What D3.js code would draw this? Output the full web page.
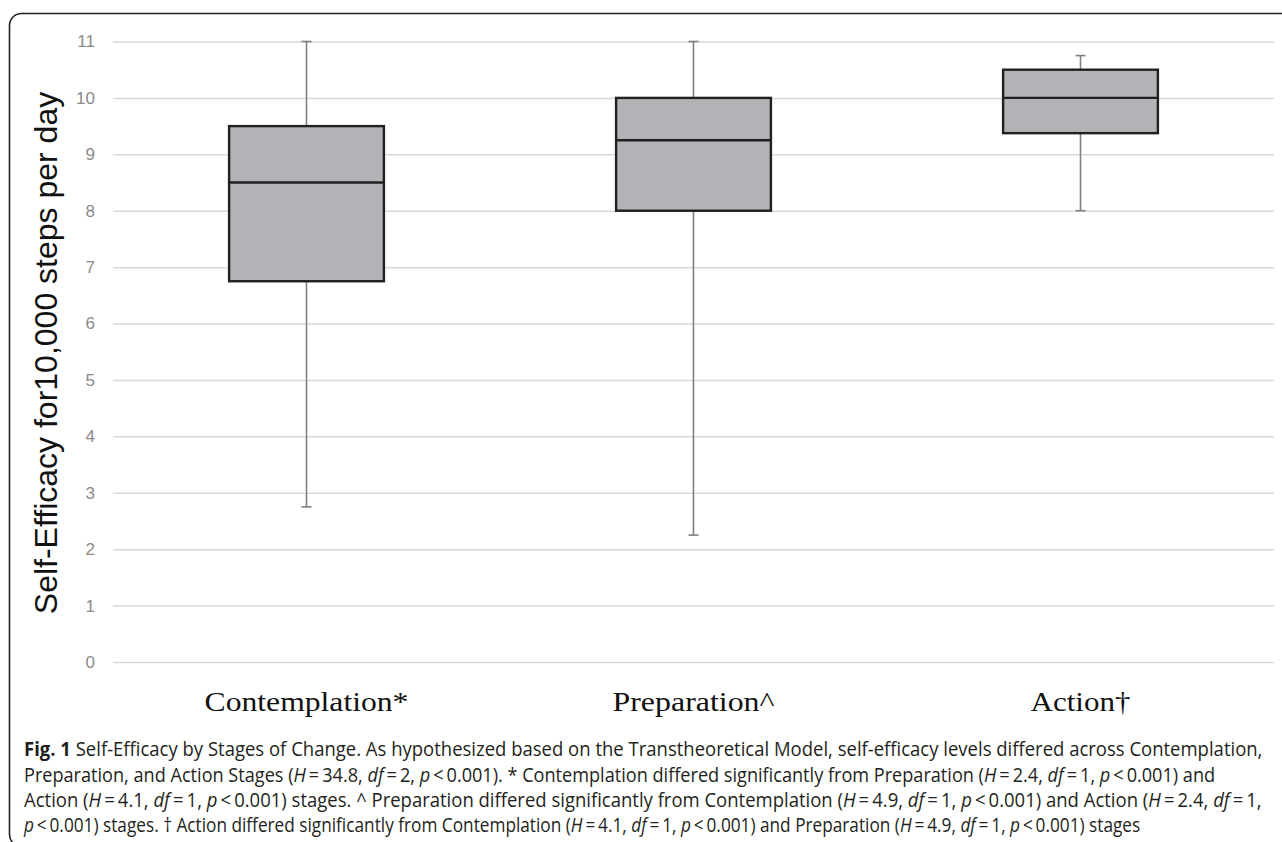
<!DOCTYPE html>
<html>
<head>
<meta charset="utf-8">
<script src="https://cdn.jsdelivr.net/npm/d3@7"></script>
<style>
  html, body { margin: 0; padding: 0; background: #fff; }
  svg { display: block; }
</style>
</head>
<body>
<svg id="chart" width="1282" height="842"></svg>
<script>
// ---- data ----
const categories = ["Contemplation*", "Preparation^", "Action\u2020"];
const whiskerMin = [2.75, 2.25, 8];
const quartile1 = [6.75, 8, 9.375];
const medians = [8.5, 9.25, 10];
const quartile3 = [9.5, 10, 10.5];
const whiskerMax = [11, 11, 10.75];
const yTicks = [0, 1, 2, 3, 4, 5, 6, 7, 8, 9, 10, 11];
const yTitle = "Self-Efficacy for10,000 steps per day";
const labelWidths = [204, 162, 100];

const svg = d3.select("#chart");

// frame
svg.append("rect")
  .attr("x", 9.5).attr("y", 13.5)
  .attr("width", 1300).attr("height", 833)
  .attr("rx", 12).attr("ry", 12)
  .attr("fill", "none").attr("stroke", "#231f20").attr("stroke-width", 1.6);

const y = d3.scaleLinear().domain([0, 11]).range([662, 41.5]);
const x = d3.scaleBand().domain(categories).range([113, 1274]);
const boxW = x.bandwidth() * 0.4;

// gridlines + tick labels
const yAxis = d3.axisLeft(y).tickValues(yTicks).tickSize(-(1274 - 113)).tickPadding(18).tickFormat(d3.format("d"));
const gAxis = svg.append("g").attr("transform", "translate(113,0)").call(yAxis);
gAxis.select(".domain").remove();
gAxis.selectAll(".tick line").attr("stroke", "#d9d9d9").attr("stroke-width", 1.5);
gAxis.selectAll(".tick text")
  .attr("fill", "#8a8a8a")
  .attr("font-family", "'Liberation Sans', Arial, sans-serif")
  .attr("font-size", 17);

// y title
svg.append("text")
  .attr("transform", "translate(57,353) rotate(-90)")
  .attr("text-anchor", "middle")
  .attr("font-family", "'Liberation Sans', Arial, sans-serif")
  .attr("font-size", 32)
  .attr("fill", "#111")
  .text(yTitle);

const data = categories.map((c, i) => ({
  cat: c, min: whiskerMin[i], q1: quartile1[i], med: medians[i], q3: quartile3[i], max: whiskerMax[i]
}));

const g = svg.append("g");
const cx = d => x(d.cat) + x.bandwidth() / 2;

// whiskers
g.selectAll(".whisker").data(data).enter().append("line")
  .attr("x1", cx).attr("x2", cx)
  .attr("y1", d => y(d.max)).attr("y2", d => y(d.min))
  .attr("stroke", "#7f7f7f").attr("stroke-width", 1.6);
["max", "min"].forEach(k => {
  g.selectAll(".cap-" + k).data(data).enter().append("line")
    .attr("x1", d => cx(d) - 5).attr("x2", d => cx(d) + 5)
    .attr("y1", d => y(d[k])).attr("y2", d => y(d[k]))
    .attr("stroke", "#7f7f7f").attr("stroke-width", 1.6);
});

// boxes
g.selectAll(".box").data(data).enter().append("rect")
  .attr("x", d => cx(d) - boxW / 2)
  .attr("width", boxW)
  .attr("y", d => y(d.q3))
  .attr("height", d => y(d.q1) - y(d.q3))
  .attr("fill", "#b2b3b6")
  .attr("stroke", "#231f20").attr("stroke-width", 2.4);
g.selectAll(".median").data(data).enter().append("line")
  .attr("x1", d => cx(d) - boxW / 2).attr("x2", d => cx(d) + boxW / 2)
  .attr("y1", d => y(d.med)).attr("y2", d => y(d.med))
  .attr("stroke", "#231f20").attr("stroke-width", 2.4);

// category labels (horizontally stretched to match the reference)
svg.selectAll(".cat").data(categories).enter().append("text")
  .attr("class", "cat")
  .attr("text-anchor", "middle")
  .attr("font-family", "'Liberation Serif', 'Times New Roman', serif")
  .attr("font-size", 27)
  .attr("fill", "#111")
  .text(d => d)
  .each(function (d, i) {
    const w = this.getComputedTextLength();
    const sx = labelWidths[i] / w;
    d3.select(this).attr("transform", `translate(${x(d) + x.bandwidth() / 2},711) scale(${sx},1)`);
  });

// caption
const captionLines = [
  { w: 1239, parts: [["Fig. 1", "b"], [" Self-Efficacy by Stages of Change. As hypothesized based on the Transtheoretical Model, self-efficacy levels differed across Contemplation,", ""]] },
  { w: 1192, parts: [["Preparation, and Action Stages (", ""], ["H", "i"], ["\u2009=\u200934.8, ", ""], ["df", "i"], ["\u2009=\u20092, ", ""], ["p", "i"], ["\u2009<\u20090.001). * Contemplation differed significantly from Preparation (", ""], ["H", "i"], ["\u2009=\u20092.4, ", ""], ["df", "i"], ["\u2009=\u20091, ", ""], ["p", "i"], ["\u2009<\u20090.001) and", ""]] },
  { w: 1238, parts: [["Action (", ""], ["H", "i"], ["\u2009=\u20094.1, ", ""], ["df", "i"], ["\u2009=\u20091, ", ""], ["p", "i"], ["\u2009<\u20090.001) stages. ^ Preparation differed significantly from Contemplation (", ""], ["H", "i"], ["\u2009=\u20094.9, ", ""], ["df", "i"], ["\u2009=\u20091, ", ""], ["p", "i"], ["\u2009<\u20090.001) and Action (", ""], ["H", "i"], ["\u2009=\u20092.4, ", ""], ["df", "i"], ["\u2009=\u20091,", ""]] },
  { w: 1117, parts: [["p", "i"], ["\u2009<\u20090.001) stages. \u2020 Action differed significantly from Contemplation (", ""], ["H", "i"], ["\u2009=\u20094.1, ", ""], ["df", "i"], ["\u2009=\u20091, ", ""], ["p", "i"], ["\u2009<\u20090.001) and Preparation (", ""], ["H", "i"], ["\u2009=\u20094.9, ", ""], ["df", "i"], ["\u2009=\u20091, ", ""], ["p", "i"], ["\u2009<\u20090.001) stages", ""]] }
];
const baselines = [756, 781.5, 806.5, 832];
captionLines.forEach((line, i) => {
  const t = svg.append("text")
    .attr("font-family", "'Open Sans', 'Noto Sans', sans-serif")
    .attr("font-size", 19.5)
    .attr("fill", "#231f20")
    .style("white-space", "pre");
  line.parts.forEach(([s, st]) => {
    const ts = t.append("tspan").text(s);
    if (st === "b") ts.attr("font-weight", "bold");
    if (st === "i") ts.attr("font-style", "italic");
  });
  const w = t.node().getComputedTextLength();
  const sx = line.w / w;
  t.attr("transform", `translate(24,${baselines[i]}) scale(${sx},1)`);
});
</script>
</body>
</html>
